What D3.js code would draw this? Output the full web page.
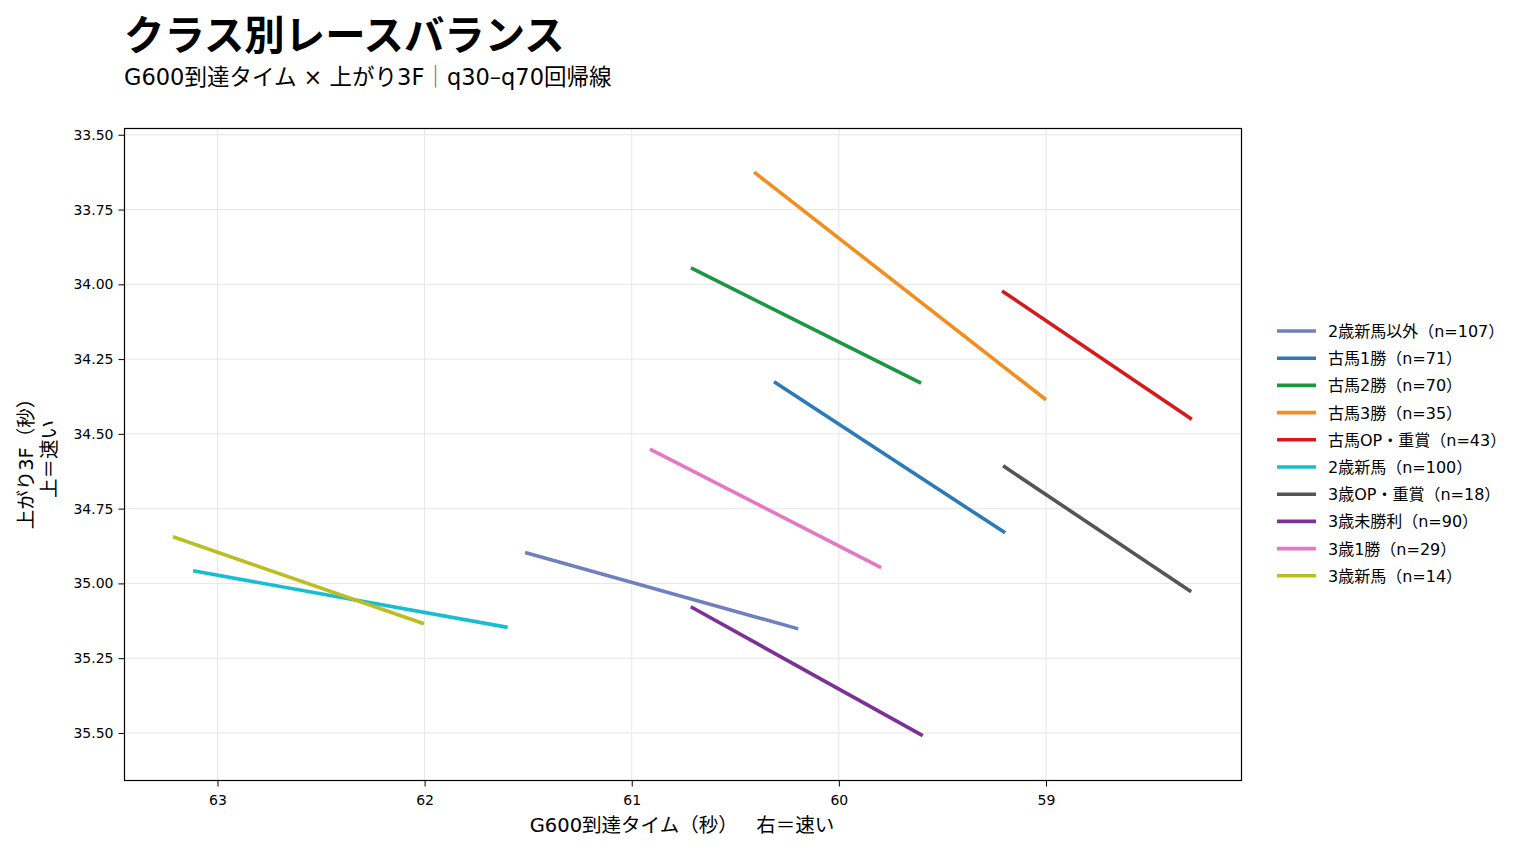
<!DOCTYPE html>
<html><head><meta charset="utf-8">
<script src="https://cdn.jsdelivr.net/npm/d3@7"></script>
<style>
body{margin:0;background:#fff;}
text{font-family:"DejaVu Sans","Noto Sans CJK JP",sans-serif;}
</style></head>
<body><svg id="c" width="1524" height="855"></svg>
<script>
const categories = ["2歳新馬以外","古馬1勝","古馬2勝","古馬3勝","古馬OP・重賞","2歳新馬","3歳OP・重賞","3歳未勝利","3歳1勝","3歳新馬"];
const counts = [107,71,70,35,43,100,18,90,29,14];
const colors = ["#7080bf","#2c7bb8","#1b9642","#f28e1e","#d7191c","#17becf","#555555","#7b3294","#e478c3","#bcbd22"];
const xStart = [61.515,60.313,60.714,60.409,59.212,63.118,59.207,60.715,60.912,63.215];
const yStart = [34.897,34.326,33.945,33.625,34.022,34.958,34.607,35.078,34.551,34.844];
const xEnd   = [60.196,59.197,59.603,59.000,58.296,61.599,58.299,59.595,59.796,62.003];
const yEnd   = [35.152,34.831,34.330,34.386,34.451,35.147,35.028,35.509,34.947,35.135];
const xTicks = [63,62,61,60,59];
const yTicks = [33.50,33.75,34.00,34.25,34.50,34.75,35.00,35.25,35.50];

const svg = d3.select("#c");
const L=124.5, R=1241.5, T=128.5, B=780.5;
const x = d3.scaleLinear().domain([63.449,58.056]).range([L,R]);
const y = d3.scaleLinear().domain([33.479,35.659]).range([T,B]);

// grid
svg.append("g").selectAll("line").data(xTicks).join("line")
  .attr("x1",d=>x(d)).attr("x2",d=>x(d)).attr("y1",T).attr("y2",B)
  .attr("stroke","#e6e6e6").attr("stroke-width",1);
svg.append("g").selectAll("line").data(yTicks).join("line")
  .attr("y1",d=>y(d)).attr("y2",d=>y(d)).attr("x1",L).attr("x2",R)
  .attr("stroke","#e6e6e6").attr("stroke-width",1);

// axes
const xa = svg.append("g").attr("transform",`translate(0,${B})`)
  .call(d3.axisBottom(x).tickValues(xTicks).tickFormat(d3.format("d")).tickSize(6).tickPadding(9));
const ya = svg.append("g").attr("transform",`translate(${L},0)`)
  .call(d3.axisLeft(y).tickValues(yTicks).tickFormat(d3.format(".2f")).tickSize(6).tickPadding(5));
[xa,ya].forEach(a=>{
  a.select(".domain").remove();
  a.selectAll("line").attr("stroke","#000").attr("stroke-width",1);
  a.selectAll("text").attr("font-size",14).attr("fill","#000")
   .style("font-family","'DejaVu Sans','Noto Sans CJK JP',sans-serif");
});

// frame
svg.append("rect").attr("x",L).attr("y",T).attr("width",R-L).attr("height",B-T)
  .attr("fill","none").attr("stroke","#000").attr("stroke-width",1.2);

// lines
const idx = d3.range(categories.length);
svg.append("g").selectAll("line").data(idx).join("line")
  .attr("x1",i=>x(xStart[i])).attr("y1",i=>y(yStart[i]))
  .attr("x2",i=>x(xEnd[i])).attr("y2",i=>y(yEnd[i]))
  .attr("stroke",i=>colors[i]).attr("stroke-width",3.6);

// titles
svg.append("text").attr("x",124).attr("y",50).attr("font-size",40.4).attr("font-weight","bold")
  .style("font-family","'Noto Sans CJK JP',sans-serif")
  .text("クラス別レースバランス");
const st = svg.append("text").attr("x",124).attr("y",85).attr("font-size",22.5);
st.append("tspan").text("G600到達タイム × 上がり3F");
st.append("tspan").style("font-family","'Noto Sans CJK JP',sans-serif").attr("fill","#666").text("｜");
st.append("tspan").text("q30–q70回帰線");

// axis labels
svg.append("text").attr("x",682).attr("y",832).attr("font-size",19.5).attr("text-anchor","middle")
  .style("white-space","pre").text("G600到達タイム（秒）   右＝速い");
const yl = svg.append("text").attr("transform","translate(33,459) rotate(-90)")
  .attr("font-size",19.5).attr("text-anchor","middle");
yl.append("tspan").attr("x",0).attr("dy",0).text("上がり3F（秒）");
yl.append("tspan").attr("x",0).attr("dy",23.4).text("上＝速い");

// legend
const lg = svg.append("g");
idx.forEach(i=>{
  const yy = 331 + i*27.2;
  lg.append("line").attr("x1",1277).attr("x2",1316).attr("y1",yy).attr("y2",yy)
    .attr("stroke",colors[i]).attr("stroke-width",3.6);
  lg.append("text").attr("x",1328).attr("y",yy+6).attr("font-size",16)
    .text(`${categories[i]}（n=${counts[i]}）`);
});
</script></body></html>
